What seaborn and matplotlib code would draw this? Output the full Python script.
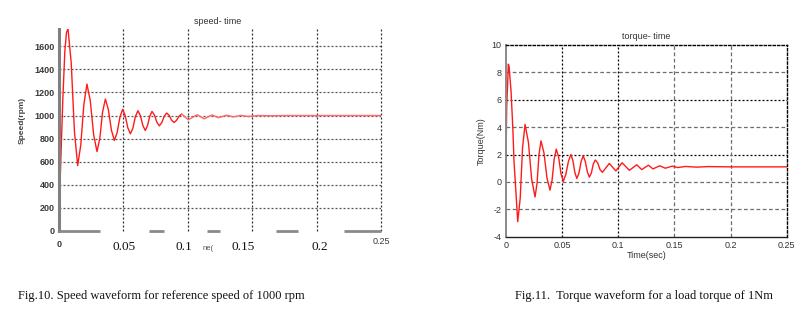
import matplotlib
matplotlib.use("Agg")
import matplotlib.pyplot as plt
import seaborn as sns
import pandas as pd

# ---- speed response (time in s, speed in rpm) ----
speed_t = [0.0, 0.0004, 0.0015, 0.003, 0.0045, 0.0058, 0.007,
           0.0095, 0.012, 0.0145, 0.0169, 0.0193, 0.0217,
           0.0243, 0.0269, 0.0295, 0.0317, 0.0338, 0.036,
           0.0383, 0.0407, 0.043, 0.0451, 0.0473, 0.0494,
           0.0514, 0.0534, 0.0554, 0.0574, 0.0593, 0.0613,
           0.0632, 0.0651, 0.067, 0.0687, 0.0705, 0.0722,
           0.0741, 0.076, 0.0779, 0.0798, 0.0817, 0.0836,
           0.0855, 0.0874, 0.0893, 0.0912, 0.0932, 0.0952,
           0.1004, 0.1074, 0.1126, 0.1188, 0.1237, 0.1302, 0.1353,
           0.141, 0.147, 0.155, 0.165, 0.175, 0.25]
speed_rpm = [0, 250, 650, 1150, 1550, 1720, 1750,
             1455, 860, 567, 745, 1095, 1273,
             1127, 834, 688, 802, 1029, 1143,
             1053, 874, 784, 851, 986, 1053,
             1000, 895, 842, 892, 992, 1042,
             1000, 914, 871, 912, 995, 1036,
             1005, 942, 911, 939, 994, 1022,
             1002, 960, 940, 958, 995, 1013,
             964, 1007, 972, 1005, 982, 1003, 988,
             1001, 992, 1000, 998, 1000, 1000]

# ---- electromagnetic torque (time in s, torque in Nm) ----
torque_t = [0.0, 0.0009, 0.0018, 0.0023, 0.0029, 0.0047, 0.0059, 0.0065,
            0.0074, 0.0107, 0.0129, 0.015, 0.0172,
            0.0202, 0.0231, 0.0261, 0.0279, 0.0296, 0.0314,
            0.0341, 0.0367, 0.0394, 0.0413, 0.0431, 0.045,
            0.0471, 0.0492, 0.0513, 0.0535, 0.0558, 0.058,
            0.0598, 0.0615, 0.0633, 0.0652, 0.0671, 0.069,
            0.0708, 0.0726, 0.0744, 0.0762, 0.0779, 0.0797,
            0.0818, 0.0839, 0.086, 0.0922, 0.098, 0.1035, 0.11,
            0.1166, 0.121, 0.127, 0.131, 0.137, 0.142, 0.148,
            0.153, 0.16, 0.17, 0.18, 0.2, 0.25]
torque_nm = [0.0, 5.5, 7.3, 8.6, 8.5, 6.7, 4.7, 3.6,
             1.5, -2.9, -1.2, 2.5, 4.2,
             2.9, 0.2, -1.1, -0.1, 2.0, 3.0,
             2.1, 0.3, -0.6, 0.15, 1.65, 2.4,
             1.8, 0.6, 0.05, 0.55, 1.5, 2.0,
             1.55, 0.7, 0.25, 0.65, 1.5, 1.9,
             1.5, 0.75, 0.35, 0.65, 1.3, 1.6,
             1.4, 0.9, 0.7, 1.35, 0.8, 1.4, 0.85,
             1.25, 0.9, 1.22, 0.95, 1.18, 1.0, 1.15,
             1.05, 1.13, 1.08, 1.12, 1.1, 1.1]

speed_xticks = [0.05, 0.1, 0.15, 0.2]
speed_yticks = [0, 200, 400, 600, 800, 1000, 1200, 1400, 1600]
torque_xticks = [0, 0.05, 0.1, 0.15, 0.2, 0.25]
torque_yticks = [-4, -2, 0, 2, 4, 6, 8, 10]

caption_left = "Fig.10. Speed waveform for reference speed of 1000 rpm"
caption_right = "Fig.11.  Torque waveform for a load torque of 1Nm"

sns.set_theme(style="white")
plt.rcParams["font.family"] = ["Liberation Sans", "DejaVu Sans"]

speed_df = pd.DataFrame({"t": speed_t, "rpm": speed_rpm})
torque_df = pd.DataFrame({"t": torque_t, "nm": torque_nm})

# the settled tail of the speed trace is drawn in a lighter tone
tail_start = 0.0952
speed_head = speed_df[speed_df["t"] <= tail_start]
speed_tail = speed_df[speed_df["t"] >= tail_start]

fig = plt.figure(figsize=(7.98, 3.24), dpi=100)
W, H = 798.0, 324.0


def box(x0, y0, x1, y1):
    return [x0 / W, 1 - y1 / H, (x1 - x0) / W, (y1 - y0) / H]


line_red = "#ff1a1a"
line_pink = "#ff6a6a"
tick_col = "#333333"
dot_dark = (0, (1.6, 1.6))
dash_grey = (0, (3, 2))

# ================= speed - time =================
ax1 = fig.add_axes(box(59, 29, 381, 231))
sns.lineplot(data=speed_head, x="t", y="rpm", ax=ax1, color=line_red,
             linewidth=1.0, estimator=None, sort=False)
sns.lineplot(data=speed_tail, x="t", y="rpm", ax=ax1, color=line_pink,
             linewidth=1.1, estimator=None, sort=False)
ax1.set_xlim(0, 0.25)
ax1.set_ylim(0, 1750)
ax1.set_yticks(speed_yticks)
ax1.set_yticklabels([str(v) for v in speed_yticks], fontsize=6.5,
                    color="#3a3a3a", fontweight="bold")
ax1.set_xticks(speed_xticks + [0.25])
ax1.set_xticklabels([])
ax1.tick_params(length=0, pad=3)
for v in speed_yticks[1:]:
    ax1.axhline(v, color="#555555", lw=0.9, ls=dot_dark, zorder=0)
for v in speed_xticks + [0.25]:
    ax1.axvline(v, color="#333333", lw=0.9, ls=dot_dark, zorder=0,
                clip_on=False)
for s in ["top", "right", "bottom"]:
    ax1.spines[s].set_visible(False)
ax1.spines["left"].set_color("#808080")
ax1.spines["left"].set_linewidth(2.2)

# broken baseline under the speed trace
base_segments = [(0.0, 0.0318), (0.0699, 0.0815), (0.1149, 0.125),
                 (0.1685, 0.1856), (0.2213, 0.25)]
for a, b in base_segments:
    ax1.plot([a, b], [0, 0], color="#8a8a8a", lw=2.0, clip_on=False,
             solid_capstyle="butt", zorder=3)

ax1.set_xlabel("")
ax1.set_ylabel("")
ax1.text(0.0, -0.045, "0", transform=ax1.transAxes, ha="center", va="top",
         fontsize=6.5, color="#3a3a3a", fontweight="bold")
ax1.text(1.0, -0.03, "0.25", transform=ax1.transAxes, ha="center", va="top",
         fontsize=6.5, color="#3a3a3a")
serif_pos = [0.0508, 0.0968, 0.1430, 0.2025]
for pos, lab in zip(serif_pos, ["0.05", "0.1", "0.15", "0.2"]):
    ax1.text(pos, -0.05, lab, transform=ax1.get_xaxis_transform(),
             ha="center", va="top", fontsize=9.5,
             family=["Liberation Serif", "DejaVu Serif"], color="#111111")
ax1.text(0.1156, -0.07, "ne(", transform=ax1.get_xaxis_transform(),
         ha="center", va="top", fontsize=5.5, color="#555555")
fig.text(218 / W, 1 - 21 / H, "speed- time", ha="center", va="center",
         fontsize=6.5, color="#333333")
fig.text(22 / W, 1 - 120 / H, "Speed(rpm)", ha="center", va="center",
         rotation=90, fontsize=6, color="#444444", fontweight="bold")

# ================= torque - time =================
ax2 = fig.add_axes(box(505.7, 45, 786.7, 236.7))
sns.lineplot(data=torque_df, x="t", y="nm", ax=ax2, color=line_red,
             linewidth=1.0, estimator=None, sort=False)
ax2.set_xlim(0, 0.25)
ax2.set_ylim(-4, 10)
ax2.set_xticks(torque_xticks)
ax2.set_xticklabels([f"{v:g}" for v in torque_xticks], fontsize=6.5,
                    color=tick_col)
ax2.set_yticks(torque_yticks)
ax2.set_yticklabels([f"{v:g}" for v in torque_yticks], fontsize=6.5,
                    color=tick_col)
ax2.tick_params(length=0, pad=3)

dark_y = {2, 6}
for v in torque_yticks[1:-1]:
    if v in dark_y:
        ax2.axhline(v, color="black", lw=0.9, ls=dot_dark, zorder=0)
    else:
        ax2.axhline(v, color="#6e6e6e", lw=0.9, ls=dash_grey, zorder=0)
dark_x = {0.05, 0.1}
for v in torque_xticks[1:-1]:
    if v in dark_x:
        ax2.axvline(v, color="black", lw=0.9, ls=dot_dark, zorder=0)
    else:
        ax2.axvline(v, color="#6e6e6e", lw=0.9, ls=dash_grey, zorder=0)

for s in ["top", "right"]:
    ax2.spines[s].set_linestyle(dot_dark)
    ax2.spines[s].set_color("black")
    ax2.spines[s].set_linewidth(1.0)
ax2.spines["left"].set_color("#8a8a8a")
ax2.spines["left"].set_linewidth(1.4)
ax2.spines["bottom"].set_color("#222222")
ax2.spines["bottom"].set_linewidth(1.0)

ax2.set_xlabel("Time(sec)", fontsize=6.5, color="#333333", labelpad=1)
ax2.set_ylabel("Torque(Nm)", fontsize=6.5, color="#333333", labelpad=4)
ax2.set_title("torque- time", fontsize=6.5, color="#333333", pad=4)

# ================= captions =================
fig.text(18 / W, 1 - 296 / H, caption_left, ha="left", va="center",
         fontsize=9, family=["Liberation Serif", "DejaVu Serif"],
         color="#111111")
fig.text(515 / W, 1 - 296 / H, caption_right, ha="left", va="center",
         fontsize=9, family=["Liberation Serif", "DejaVu Serif"],
         color="#111111")

fig.savefig("out.png", dpi=100, facecolor="white")
